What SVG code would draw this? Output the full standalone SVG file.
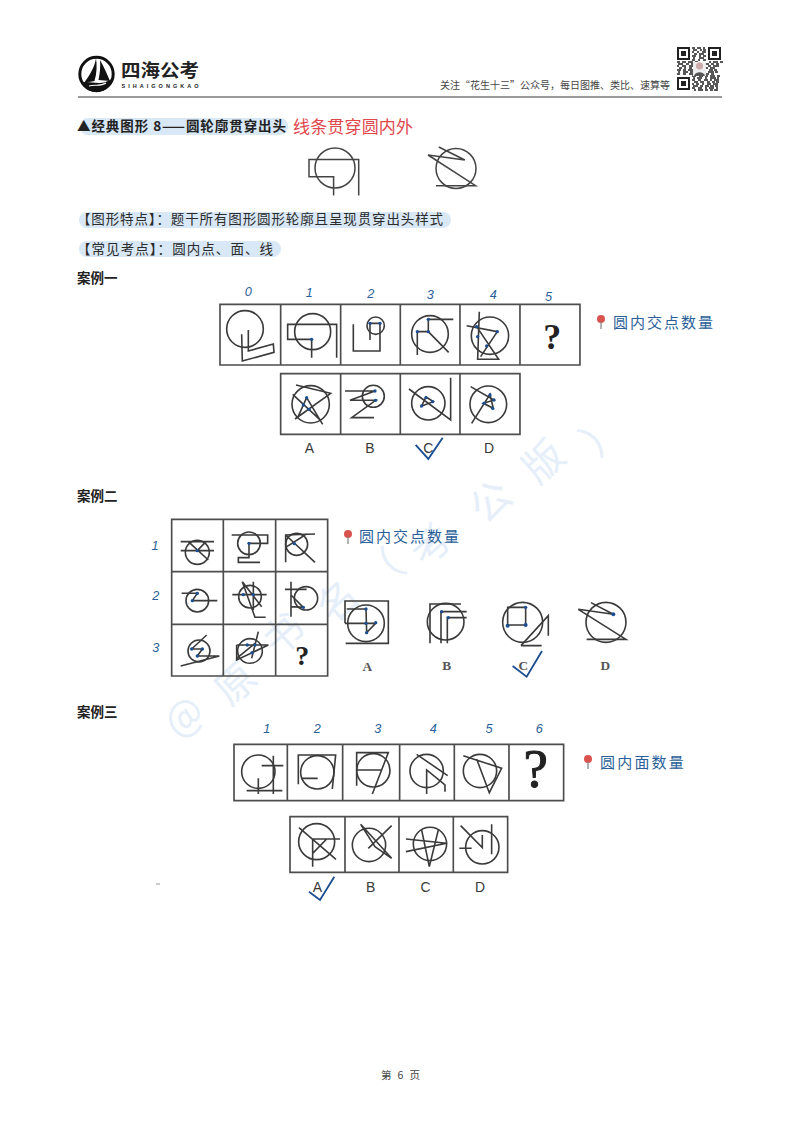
<svg xmlns="http://www.w3.org/2000/svg" width="800" height="1132" viewBox="0 0 800 1132">
<style>
text{font-family:"Noto Sans CJK SC","Liberation Sans",sans-serif}
.f{filter:url(#soft)}
.f,.f *{fill:none;stroke:#3a3a3a;stroke-width:4.800}
.s,.s *{fill:none;stroke:#444;stroke-width:1.500}
.g{fill:none;stroke:#4d4d4d;stroke-width:5;filter:url(#soft)}
.f .d{fill:#1b4f91;stroke:none}
.wm{font-size:40px;fill:#e6eef9;text-anchor:middle}
.hl{fill:#d9e8f6}
.body{font-size:13.500px;fill:#2b2b2b}
.case{font-size:13.500px;font-weight:700;fill:#222}
.hand{font-size:15px;fill:#2a5f99}
.num{font-family:"Liberation Sans",sans-serif;font-style:italic;font-size:38px;fill:#2a5f99;text-anchor:middle}
.sa{font-family:"Liberation Sans",sans-serif;font-size:42px;fill:#3a3a3a;text-anchor:middle}
.se{font-family:"Liberation Serif",serif;font-weight:700;font-size:40px;fill:#555;text-anchor:middle}
.q{font-family:"Liberation Serif",serif;font-weight:700;fill:#222;text-anchor:middle}
.chk{fill:none;stroke:#1b4f91;stroke-width:5.500;stroke-linejoin:miter}
.pin{fill:#d9534f}
.stem{stroke:#888;stroke-width:1.300}
</style>
<defs><filter id="soft" x="-5%" y="-5%" width="110%" height="110%"><feGaussianBlur stdDeviation="0.800"/></filter></defs>
<rect width="800" height="1132" fill="#fff"/>
<g id="watermark">
<text class="wm" transform="translate(193,727) rotate(-42)">@</text>
<text class="wm" transform="translate(245,694) rotate(-42)">原</text>
<text class="wm" transform="translate(293,645) rotate(-42)">书</text>
<text class="wm" transform="translate(347,612) rotate(-42)">名</text>
<text class="wm" transform="translate(392,582) rotate(-42)">（</text>
<text class="wm" transform="translate(440,555) rotate(-42)">考</text>
<text class="wm" transform="translate(500,512) rotate(-42)">公</text>
<text class="wm" transform="translate(553,472) rotate(-42)">版</text>
<text class="wm" transform="translate(612,444) rotate(-42)">）</text>
</g>
<g id="header">
<g id="logo">
<circle cx="96.500" cy="74" r="16.700" fill="#fff" stroke="#111" stroke-width="3"/>
<path d="M96 58C95 67 89 76 84 83L94.500 81C97 73 97 65 96 58ZM100 60C104 67 107 74 110 81L98.500 80C100 73 100.500 66 100 60Z" fill="#111"/>
<path d="M81 83C89 79 100 88 113 78C111 87 104 92 96.500 92C89 92 84 88 81 83Z" fill="#111"/>
<path d="M89 86C95 84 100 87 106 83" fill="none" stroke="#fff" stroke-width="1.200"/>
<text x="121" y="77.300" font-size="18" font-weight="700" fill="#222" textLength="78" lengthAdjust="spacingAndGlyphs">四海公考</text>
<text x="121.500" y="87.500" font-size="5.500" font-weight="700" fill="#222" textLength="77" style="font-family:'Liberation Sans',sans-serif">SIHAIGONGKAO</text>
</g>
<text x="440" y="89" font-size="10" fill="#444" textLength="230" lengthAdjust="spacingAndGlyphs">关注“花生十三”公众号，每日图推、类比、速算等</text>
<g id="qr">
<path d="M677 47h13v13h-13zM679 49v9h9v-9zM681 51h5v5h-5zM708 47h13v13h-13zM710 49v9h9v-9zM712 51h5v5h-5zM677 77h13v13h-13zM679 79v9h9v-9zM681 81h5v5h-5z" fill="#222" fill-rule="evenodd"/>
<path d="M692 48h3m2 0h4m2 0h2M693 50h4m3 0h2m1 0h3M692 52h2m3 0h2m3 0h4M694 54h3m2 0h5M692 56h4m3 0h2m2 0h3M693 58h2m4 0h5M692 60h3m3 0h2m3 0h3M677 62h3m2 0h4m2 0h5m2 0h3m11 0h2m2 0h5m2 0h3M678 64h5m3 0h3m2 0h2m12 0h4m2 0h3m2 0h3M677 66h2m3 0h4m3 0h4m11 0h2m2 0h3m2 0h6M679 68h3m2 0h2m3 0h3m12 0h4m2 0h5M677 70h4m2 0h3m2 0h5m10 0h3m3 0h4m1 0h3M678 72h2m3 0h5m2 0h3m11 0h2m2 0h6m1 0h3M677 74h3m3 0h3m3 0h4m3 0h2m3 0h4m1 0h3m2 0h3M692 76h4m3 0h4m2 0h3m2 0h5m2 0h3M693 78h2m2 0h5m3 0h2m3 0h6m1 0h2M692 80h3m3 0h3m3 0h4m2 0h2m2 0h5M694 82h4m2 0h4m3 0h3m2 0h3m1 0h3M692 84h2m2 0h3m3 0h2m3 0h4m2 0h5M693 86h5m2 0h3m2 0h4m1 0h4m1 0h3M692 88h3m3 0h4m3 0h2m2 0h5m2 0h2M694 90h2m2 0h5m2 0h3m2 0h3m1 0h4" fill="none" stroke="#222" stroke-width="1.700"/>
<rect x="693" y="62" width="13" height="14" fill="#eee"/>
<circle cx="699.500" cy="66" r="3.500" fill="#caa"/><path d="M694 76c1-5 10-5 11 0z" fill="#555"/>
</g>
<line x1="78" y1="97" x2="722" y2="97" stroke="#777" stroke-width="1.300"/>
</g>
<g id="intro">
<rect class="hl" x="80" y="118" width="208" height="17" rx="8"/>
<text x="77" y="131" font-size="13.500" font-weight="700" fill="#222" textLength="209">▲经典图形 8——圆轮廓贯穿出头</text>
<text x="293" y="132.500" font-size="17" fill="#e0474c" textLength="120">线条贯穿圆内外</text>
<g id="sample-1" class="s">
<circle cx="335" cy="168" r="20"/>
<path d="M358.700 195.600V159.500H309V176.700H333.600V195.600"/>
</g>
<g id="sample-2" class="s">
<circle cx="456" cy="168.500" r="20"/>
<path d="M438.800 147L464.800 160L428 155L475.600 185.700H436"/>
</g>
<rect class="hl" x="79" y="212" width="372" height="16" rx="8"/>
<text class="body" x="77" y="224" textLength="366">【图形特点】：题干所有图形圆形轮廓且呈现贯穿出头样式</text>
<rect class="hl" x="79" y="241" width="202" height="16" rx="8"/>
<text class="body" x="77" y="254" textLength="196">【常见考点】：圆内点、面、线</text>
</g>
<text id="case-1-title" class="case" x="77" y="283">案例一</text>
<text id="case-2-title" class="case" x="77" y="501">案例二</text>
<text id="case-3-title" class="case" x="77" y="717">案例三</text>

<g id="case-1" transform="translate(210,275) scale(.3333)">
<path class="g" d="M30 88H1110V270H30ZM212 88V270M392 88V270M571 88V270M750 88V270M930 88V270M212 296H930V478H212ZM392 296V478M571 296V478M750 296V478"/>
<g id="c1-0" class="f"><circle cx="105" cy="162" r="55"/><path d="M95 178L97 258L192 232L190 207L115 228V165"/></g>
<g id="c1-1" class="f"><circle cx="308" cy="170" r="54"/><path d="M305 193H233V148H380V248M305 193V248"/><circle class="d" cx="305" cy="193" r="5"/></g>
<g id="c1-2" class="f"><circle cx="497" cy="152" r="26"/><path d="M430 148V228H510V145H480V195"/><circle class="d" cx="480" cy="145" r="5"/><circle class="d" cx="510" cy="145" r="5"/></g>
<g id="c1-3" class="f"><circle cx="660" cy="177" r="55"/><path d="M730 133H655V170H622V240M655 170L716 232"/><circle class="d" cx="655" cy="133" r="5"/><circle class="d" cx="655" cy="170" r="5"/><circle class="d" cx="622" cy="170" r="5"/></g>
<g id="c1-4" class="f"><circle cx="840" cy="182" r="56"/><path d="M770 152L862 170L812 245M808 110L803 253H866L800 155"/><circle class="d" cx="800" cy="155" r="5"/><circle class="d" cx="862" cy="170" r="5"/><circle class="d" cx="803" cy="185" r="5"/><circle class="d" cx="830" cy="213" r="5"/></g>
<text class="q" x="1027" y="222" font-size="108">?</text>
<g id="c1-A" class="f"><circle cx="302" cy="388" r="56"/><path d="M258 330L362 355L255 432M290 368L262 430M290 368L338 448M248 358L332 436"/><circle class="d" cx="290" cy="368" r="5"/><circle class="d" cx="280" cy="390" r="5"/><circle class="d" cx="297" cy="403" r="5"/></g>
<g id="c1-B" class="f"><circle cx="490" cy="364" r="33"/><path d="M405 348H495L420 376H497L425 428H492"/><circle class="d" cx="495" cy="348" r="5"/><circle class="d" cx="497" cy="376" r="5"/></g>
<g id="c1-C" class="f"><circle cx="655" cy="385" r="50"/><path d="M597 342L722 435V308M635 393L648 366L670 380Z"/><circle class="d" cx="635" cy="393" r="5"/><circle class="d" cx="648" cy="368" r="5"/><circle class="d" cx="668" cy="380" r="5"/></g>
<g id="c1-D" class="f"><circle cx="835" cy="388" r="55"/><path d="M782 335L852 375L820 385L850 400L840 358L785 445"/><circle class="d" cx="840" cy="360" r="5"/><circle class="d" cx="852" cy="375" r="5"/><circle class="d" cx="822" cy="385" r="5"/><circle class="d" cx="848" cy="400" r="5"/></g>
<text class="sa" x="298" y="534">A</text><text class="sa" x="480" y="534">B</text><text class="sa" x="655" y="534">C</text><text class="sa" x="837" y="534">D</text>
<path class="chk" d="M617 510L655 552L698 488"/>
<text class="num" x="115" y="62">0</text><text class="num" x="298" y="66">1</text><text class="num" x="482" y="68">2</text><text class="num" x="661" y="71">3</text><text class="num" x="850" y="71">4</text><text class="num" x="1016" y="77">5</text>
</g>
<g id="label-1">
<circle class="pin" cx="601" cy="319" r="4"/><line class="stem" x1="601" y1="322" x2="601" y2="329"/>
<text class="hand" x="613" y="328" letter-spacing="2">圆内交点数量</text>
</g>

<g id="case-2-grid" transform="translate(140,510) scale(.3333)">
<path class="g" d="M95 28H563V498H95ZM250 28V498M407 28V498M95 185H563M95 343H563"/>
<g id="c2-11" class="f"><circle cx="172" cy="127" r="36"/><path d="M122 95H222M122 122H222M145 95L205 150M198 95L172 122"/><circle class="d" cx="172" cy="122" r="5"/></g>
<g id="c2-12" class="f"><circle cx="327" cy="100" r="34"/><path d="M275 75H383V100H327V143H295V157H360"/><circle class="d" cx="327" cy="100" r="5"/></g>
<g id="c2-13" class="f"><circle cx="470" cy="103" r="33"/><path d="M437 157V75L525 72M437 75L525 157M437 112L500 72"/><circle class="d" cx="463" cy="101" r="5"/></g>
<g id="c2-21" class="f"><circle cx="172" cy="272" r="34"/><path d="M125 250H172L157 272H232"/><circle class="d" cx="172" cy="250" r="5"/><circle class="d" cx="157" cy="272" r="5"/></g>
<g id="c2-22" class="f"><circle cx="330" cy="260" r="34"/><path d="M277 254H380M307 215L345 322H377M340 215V300M307 215L365 290"/><circle class="d" cx="310" cy="254" r="5"/><circle class="d" cx="340" cy="254" r="5"/></g>
<g id="c2-23" class="f"><circle cx="498" cy="265" r="35"/><path d="M435 238H500M453 215V320M453 255L490 292L453 290"/><circle class="d" cx="490" cy="292" r="5"/></g>
<g id="c2-31" class="f"><circle cx="177" cy="423" r="33"/><path d="M122 468L238 438H172L187 417H155M200 375L155 417"/><circle class="d" cx="155" cy="417" r="5"/><circle class="d" cx="187" cy="417" r="5"/><circle class="d" cx="172" cy="438" r="5"/></g>
<g id="c2-32" class="f"><circle cx="330" cy="423" r="37"/><path d="M290 405H385L290 450V405M355 365L335 445M290 445L345 400"/><circle class="d" cx="322" cy="405" r="5"/><circle class="d" cx="345" cy="405" r="5"/><circle class="d" cx="336" cy="428" r="5"/></g>
<text class="q" x="487" y="465" font-size="84">?</text>
<text class="num" x="45" y="121">1</text><text class="num" x="47" y="270">2</text><text class="num" x="47" y="425">3</text>
</g>
<g id="label-2">
<circle class="pin" cx="348" cy="534" r="4"/><line class="stem" x1="348" y1="537" x2="348" y2="544"/>
<text class="hand" x="359" y="542" letter-spacing="2">圆内交点数量</text>
</g>
<g id="case-2-options" transform="translate(330,580) scale(.3333)">
<g id="c2-A" class="f"><circle cx="108" cy="130" r="55"/><path d="M45 130V63H175V190H47M45 130H137L110 158L108 87H50"/><circle class="d" cx="108" cy="87" r="5"/><circle class="d" cx="108" cy="130" r="5"/><circle class="d" cx="137" cy="128" r="5"/><circle class="d" cx="110" cy="158" r="5"/></g>
<g id="c2-B" class="f"><circle cx="347" cy="125" r="55"/><path d="M300 190V72H393M333 190V95H410M352 190V113H410"/><circle class="d" cx="335" cy="95" r="5"/><circle class="d" cx="355" cy="113" r="5"/></g>
<g id="c2-C" class="f"><circle cx="578" cy="127" r="60"/><path d="M533 137V82H587V135H533M573 197L655 107V167M573 197H635"/><circle class="d" cx="533" cy="137" r="6"/><circle class="d" cx="587" cy="135" r="6"/><circle class="d" cx="587" cy="82" r="5"/></g>
<g id="c2-D" class="f"><circle cx="828" cy="127" r="60"/><path d="M783 68L850 103L745 88L888 178H770"/><circle class="d" cx="850" cy="103" r="6"/></g>
<text class="se" x="112" y="273">A</text><text class="se" x="350" y="271">B</text><text class="se" x="580" y="271">C</text><text class="se" x="826" y="271">D</text>
<path class="chk" d="M548 258L590 290L636 213"/>
</g>

<g id="case-3" transform="translate(225,715) scale(.3333)">
<path class="g" d="M27 88H1016V257H27ZM187 88V257M353 88V257M524 88V257M688 88V257M852 88V257M195 305H848V472H195ZM360 305V472M522 305V472M685 305V472"/>
<g id="c3-1" class="f"><circle cx="100" cy="170" r="50"/><path d="M110 152H175M65 227H172M145 122V237M100 190V237"/></g>
<g id="c3-2" class="f"><circle cx="277" cy="172" r="50"/><path d="M220 208V120H332L322 222M228 190H278"/></g>
<g id="c3-3" class="f"><circle cx="445" cy="166" r="50"/><path d="M395 212V113H490L442 237M395 165H468"/></g>
<g id="c3-4" class="f"><circle cx="605" cy="168" r="50"/><path d="M575 118L668 182M605 237V165L660 210V230"/></g>
<g id="c3-5" class="f"><circle cx="765" cy="168" r="50"/><path d="M715 122L830 160L793 233L755 132"/></g>
<text x="932" y="215" font-size="165" style="font-family:'Liberation Serif',serif" fill="#222" stroke="#222" stroke-width="3" text-anchor="middle">?</text>
<g id="c3-A" class="f"><circle cx="275" cy="380" r="54"/><path d="M222 338L333 433M345 372H263V455M263 415L305 372"/></g>
<g id="c3-B" class="f"><circle cx="432" cy="390" r="50"/><path d="M407 328L500 430L450 395L407 328M500 332L430 400"/></g>
<g id="c3-C" class="f"><circle cx="615" cy="387" r="50"/><path d="M543 372L665 385L543 410M590 345L613 455L640 345"/></g>
<g id="c3-D" class="f"><circle cx="772" cy="397" r="50"/><path d="M707 332L772 398V360M800 328V418M703 400H740"/></g>
<text class="sa" x="277" y="532">A</text><text class="sa" x="437" y="532">B</text><text class="sa" x="602" y="532">C</text><text class="sa" x="765" y="532">D</text>
<path class="chk" d="M252 530L285 555L328 485"/>
<text class="num" x="125" y="55">1</text><text class="num" x="277" y="55">2</text><text class="num" x="458" y="55">3</text><text class="num" x="625" y="55">4</text><text class="num" x="792" y="55">5</text><text class="num" x="943" y="55">6</text>
</g>
<g id="label-3">
<circle class="pin" cx="588" cy="759" r="4"/><line class="stem" x1="588" y1="762" x2="588" y2="769"/>
<text class="hand" x="600" y="768" letter-spacing="2.200">圆内面数量</text>
</g>
<line x1="156" y1="884" x2="160" y2="884" stroke="#999" stroke-width="1"/>
<text id="footer" x="381" y="1079" font-size="10.500" fill="#444" textLength="39">第 6 页</text>
</svg>
